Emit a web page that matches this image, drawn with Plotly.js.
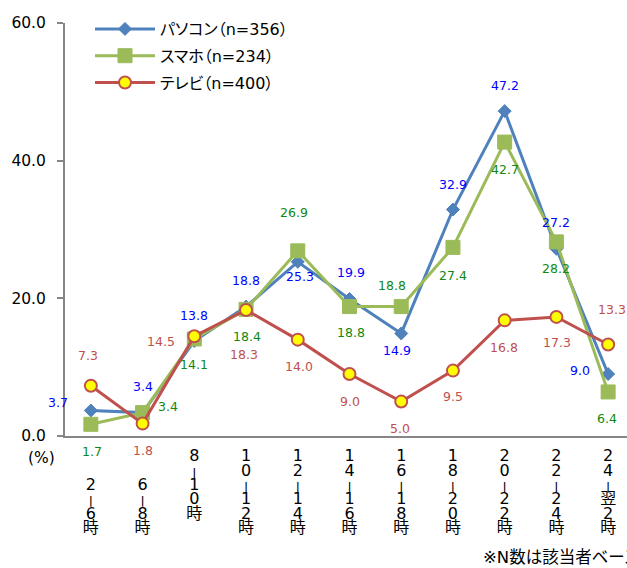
<!DOCTYPE html>
<html>
<head>
<meta charset="utf-8">
<script src="https://cdn.plot.ly/plotly-3.0.1.min.js"></script>
<style>
  html, body { margin: 0; padding: 0; overflow: hidden; background: #ffffff; }
  #chart { width: 660px; height: 568px; }
  .legendtext { font-feature-settings: "palt"; }
</style>
</head>
<body>
<div id="chart"></div>
<script>
// Time slots (x categories) and series
const categories = ["2ー6時", "6ー8時", "8ー10時", "10ー12時", "12ー14時", "14ー16時",
                    "16ー18時", "18ー20時", "20ー22時", "22ー24時", "24ー翌2時"];
const seriesNames = ["パソコン（n=356）", "スマホ（n=234）", "テレビ（n=400）"];
const pcValues    = [3.7, 3.4, 13.8, 18.8, 25.3, 19.9, 14.9, 32.9, 47.2, 27.2, 9.0];
const phoneValues = [1.7, 3.4, 14.1, 18.4, 26.9, 18.8, 18.8, 27.4, 42.7, 28.2, 6.4];
const tvValues    = [7.3, 1.8, 14.5, 18.3, 14.0, 9.0, 5.0, 9.5, 16.8, 17.3, 13.3];
const yTickValues = [0, 20, 40, 60];
const yUnitLabel = "(%)";
const footnote = "※N数は該当者ベース";

// ---- presentation settings ----
const FONT = "DejaVu Sans, Noto Sans CJK JP, sans-serif";
const AXIS_GREY = "#868686";
const lineColors  = ["#4F81BD", "#9BBB59", "#C0504D"];
const labelColors = ["#0000FF", "#118811", "#C0504D"];
// blank lines placed above each stacked category label
const labelLead = [2, 2, 0, 0, 0, 0, 0, 0, 0, 0, 0];
// the long-vowel dash turns into a short vertical stroke in stacked text
const VERTICAL_DASH = '<span style="font-size:10px;font-weight:bold">|</span>';
// data label offsets in pixels: [right, down] from each point
const labelOffsets = [
  [[-33,-8],[0,-26],[0,-26],[0,-26],[2,15],[1,-27],[-4,17],[0,-25],[0,-26],[0,-26],[-28,-4]],
  [[1,27],[25,-6],[0,26],[1,27],[-4,-38],[1,26],[-9,-21],[0,28],[0,27],[0,27],[-1,27]],
  [[-3,-30],[0,27],[-33,5],[-2,44],[1,27],[0,27],[-1,27],[0,26],[-1,27],[1,26],[4,-35]]
];

const xIdx = categories.map((c, i) => i);
const boundaries = categories.map((c, i) => i - 0.5).concat([categories.length - 0.5]);
const xRange = [-0.5, categories.length - 0.5];

// stacked (vertical) writing of the category names
const stackedLabels = categories.map((c, i) => {
  const chars = Array.from(c).map(ch => ch === "ー" ? VERTICAL_DASH : ch);
  const lead = Array(labelLead[i]).fill("\u00a0");
  return lead.concat(chars).join("<br>");
});

const allValues = [pcValues, phoneValues, tvValues];
const markers = [
  { symbol: "diamond", size: 10, color: lineColors[0], line: { width: 1, color: lineColors[0] } },
  { symbol: "square", size: 14, color: lineColors[1], line: { width: 1, color: lineColors[1] } },
  { symbol: "circle", size: 12, color: "#FFFF00", line: { width: 2, color: lineColors[2] } }
];

const traces = allValues.map((vals, s) => ({
  type: "scatter",
  mode: "lines+markers",
  x: xIdx,
  y: vals,
  name: seriesNames[s],
  legendgroup: "g" + s,
  line: { color: lineColors[s], width: 3 },
  marker: markers[s],
  hoverinfo: "skip"
}));

const annotations = [];
allValues.forEach((vals, s) => {
  vals.forEach((v, i) => {
    annotations.push({
      x: i, y: v, xref: "x", yref: "y",
      text: v.toFixed(1),
      showarrow: false,
      xanchor: "center", yanchor: "middle",
      xshift: labelOffsets[s][i][0],
      yshift: -labelOffsets[s][i][1],
      font: { family: FONT, size: 12.5, color: labelColors[s] }
    });
  });
});
annotations.push({
  xref: "paper", yref: "paper", x: -0.0413, y: -0.053,
  text: yUnitLabel, showarrow: false, xanchor: "center", yanchor: "middle",
  font: { family: FONT, size: 15.5, color: "#000" }
});
annotations.push({
  xref: "paper", yref: "paper", x: 0.731, y: -0.295,
  text: footnote, showarrow: false, xanchor: "left", yanchor: "middle",
  font: { family: FONT, size: 16.5, color: "#000" }
});

const tickAxis = (ticks) => ({
  overlaying: "x", anchor: "y", range: xRange, tickmode: "array", tickvals: boundaries,
  ticks: ticks, ticklen: 6, tickwidth: 2, tickcolor: AXIS_GREY,
  showticklabels: false, showline: false, showgrid: false, zeroline: false, fixedrange: true
});

const layout = {
  width: 660, height: 568, autosize: false,
  margin: { l: 65, r: 26, t: 23, b: 132, autoexpand: false },
  paper_bgcolor: "#ffffff", plot_bgcolor: "#ffffff",
  font: { family: FONT, color: "#000" },
  showlegend: true,
  legend: {
    xref: "container", yref: "container",
    x: 90 / 660, y: 1 - 12 / 568, xanchor: "left", yanchor: "top",
    traceorder: "grouped", tracegroupgap: 3, itemwidth: 60,
    font: { family: FONT, size: 16, color: "#000" },
    bgcolor: "rgba(0,0,0,0)"
  },
  xaxis: {
    range: xRange, tickmode: "array", tickvals: xIdx, ticktext: stackedLabels,
    ticks: "", showline: true, linecolor: AXIS_GREY, linewidth: 2,
    showgrid: false, zeroline: false, fixedrange: true, automargin: false,
    tickfont: { family: FONT, size: 16, color: "#000" }, ticklabelstandoff: 4
  },
  xaxis2: tickAxis("outside"),
  xaxis3: tickAxis("inside"),
  yaxis: {
    range: [0, 60], tickmode: "array", tickvals: yTickValues, tickformat: ".1f",
    ticks: "outside", ticklen: 6, tickwidth: 2, tickcolor: AXIS_GREY,
    showline: true, linecolor: AXIS_GREY, linewidth: 2,
    showgrid: false, zeroline: false, fixedrange: true, automargin: false,
    tickfont: { family: FONT, size: 15.5, color: "#000" }, ticklabelstandoff: 8
  },
  yaxis2: {
    overlaying: "y", anchor: "x", side: "left", range: [0, 60], tickmode: "array", tickvals: yTickValues,
    ticks: "inside", ticklen: 6, tickwidth: 2, tickcolor: AXIS_GREY,
    showticklabels: false, showline: false, showgrid: false, zeroline: false, fixedrange: true
  },
  annotations: annotations
};

Plotly.newPlot("chart", traces, layout, { staticPlot: true, displayModeBar: false }).then(gd => {
  // tighten the line spacing of the stacked category labels
  gd.querySelectorAll(".xaxislayer-above .xtick text tspan.line").forEach(t => {
    const dy = t.getAttribute("dy");
    if (dy && dy.endsWith("em")) {
      t.setAttribute("dy", (parseFloat(dy) * 0.9 / 1.3).toFixed(3) + "em");
    }
  });
});
</script>
</body>
</html>
